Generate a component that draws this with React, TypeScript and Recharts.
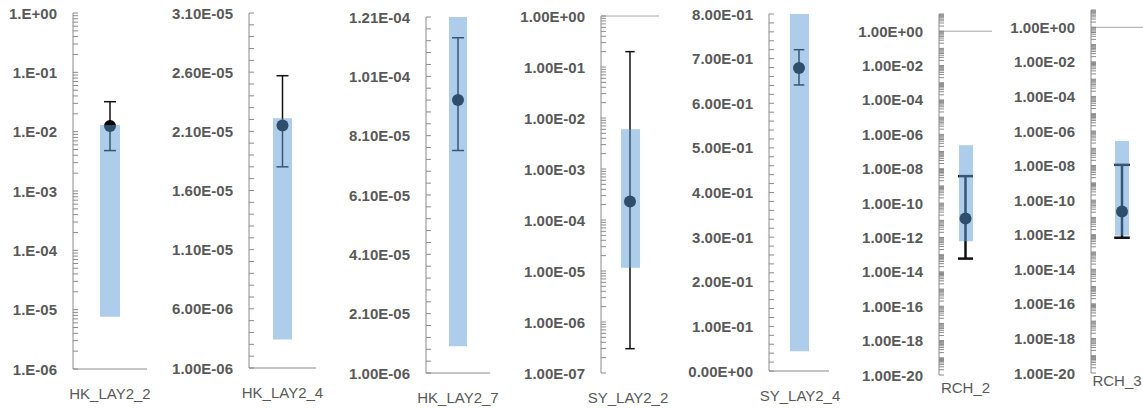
import React from 'react';
import { ComposedChart, Bar, Scatter, ErrorBar, XAxis, YAxis, ReferenceLine } from 'recharts';

// Parameter names, one small chart each
const categories = ['HK_LAY2_2', 'HK_LAY2_4', 'HK_LAY2_7', 'SY_LAY2_2', 'SY_LAY2_4', 'RCH_2', 'RCH_3'];

// Shaded range of each parameter
const rangeLow = [7.6e-6, 3.4e-6, 1.0e-5, 1.16e-5, 0.044, 6.0e-13, 9.0e-13];
const rangeHigh = [1.3e-2, 2.21e-5, 1.21e-4, 6.0e-3, 0.8, 2.3e-7, 2.6e-7];

// Estimated value with its lower / upper bound
const estimate = [1.25e-2, 2.15e-5, 9.3e-5, 2.3e-4, 0.679, 1.26e-11, 2.2e-11];
const lowerBound = [4.8e-3, 1.8e-5, 7.6e-5, 3.0e-7, 0.641, 5.9e-14, 6.7e-13];
const upperBound = [3.2e-2, 2.57e-5, 1.14e-4, 2.0e-1, 0.72, 3.7e-9, 1.1e-8];

// Value axes
const axisKind = ['log', 'linear', 'linear', 'log', 'linear', 'log', 'log'];
const axisMin = [1e-6, 1e-6, 1e-6, 1e-7, 0, 1e-20, 1e-20];
const axisMax = [1, 3.1e-5, 1.21e-4, 1, 0.8, 10, 10];
const minorStep = [0, 1e-6, 4e-6, 0, 0.02, 0, 0];

const majorTicks = [
  [1e-6, 1e-5, 1e-4, 1e-3, 1e-2, 1e-1, 1],
  [1e-6, 6e-6, 1.1e-5, 1.6e-5, 2.1e-5, 2.6e-5, 3.1e-5],
  [1e-6, 2.1e-5, 4.1e-5, 6.1e-5, 8.1e-5, 1.01e-4, 1.21e-4],
  [1e-7, 1e-6, 1e-5, 1e-4, 1e-3, 1e-2, 1e-1, 1],
  [0, 0.1, 0.2, 0.3, 0.4, 0.5, 0.6, 0.7, 0.8],
  [1e-20, 1e-18, 1e-16, 1e-14, 1e-12, 1e-10, 1e-8, 1e-6, 1e-4, 1e-2, 1],
  [1e-20, 1e-18, 1e-16, 1e-14, 1e-12, 1e-10, 1e-8, 1e-6, 1e-4, 1e-2, 1],
];

const rchLabels = ['1.00E-20', '1.00E-18', '1.00E-16', '1.00E-14', '1.00E-12', '1.00E-10', '1.00E-08', '1.00E-06', '1.00E-04', '1.00E-02', '1.00E+00'];
const tickLabels = [
  ['1.E-06', '1.E-05', '1.E-04', '1.E-03', '1.E-02', '1.E-01', '1.E+00'],
  ['1.00E-06', '6.00E-06', '1.10E-05', '1.60E-05', '2.10E-05', '2.60E-05', '3.10E-05'],
  ['1.00E-06', '2.10E-05', '4.10E-05', '6.10E-05', '8.10E-05', '1.01E-04', '1.21E-04'],
  ['1.00E-07', '1.00E-06', '1.00E-05', '1.00E-04', '1.00E-03', '1.00E-02', '1.00E-01', '1.00E+00'],
  ['0.00E+00', '1.00E-01', '2.00E-01', '3.00E-01', '4.00E-01', '5.00E-01', '6.00E-01', '7.00E-01', '8.00E-01'],
  rchLabels,
  rchLabels,
];

// Placement of each small chart on the page
const layout = [
  { axisX: 73, plotW: 74, top: 13, bottom: 369, labelY: 393, labelDx: 0, barSize: 20, cap: 6, errStroke: 1.5, bottomLine: true, topLine: false },
  { axisX: 249, plotW: 67, top: 13, bottom: 368, labelY: 392, labelDx: 0, barSize: 19, cap: 6, errStroke: 1.5, bottomLine: true, topLine: false },
  { axisX: 426, plotW: 64, top: 17, bottom: 373, labelY: 397, labelDx: 0, barSize: 18, cap: 6, errStroke: 1.5, bottomLine: true, topLine: false },
  { axisX: 601, plotW: 58, top: 16, bottom: 373, labelY: 397, labelDx: -2, barSize: 19, cap: 4.7, errStroke: 1.5, bottomLine: false, topLine: true },
  { axisX: 769, plotW: 60, top: 14, bottom: 371, labelY: 395, labelDx: 1, barSize: 19, cap: 5.3, errStroke: 1.5, bottomLine: true, topLine: false },
  { axisX: 939, plotW: 53, top: 14, bottom: 375, labelY: 387, labelDx: 0, barSize: 14, cap: 7.5, errStroke: 2.5, bottomLine: false, topLine: true },
  { axisX: 1091, plotW: 62, top: 10, bottom: 373, labelY: 380, labelDx: -5, barSize: 14, cap: 7.8, errStroke: 2.5, bottomLine: false, topLine: true },
];

const PAGE_W = 1143;
const PAGE_H = 408;
const Y_AXIS_W = 100;
const RIGHT_PAD = 40;
const LABEL_GAP = 16;
const TICK_LEN = 5;
const AXIS_COLOR = '#8a8a8a';
const TEXT_COLOR = '#595959';
const FONT = '"Liberation Sans", Arial, sans-serif';

// Major ticks plus unlabelled minor ticks (2..9 per decade on log axes)
function buildTicks(i: number): number[] {
  const majors = majorTicks[i];
  const min = axisMin[i];
  const max = axisMax[i];
  const out: number[] = [...majors];
  if (axisKind[i] === 'log') {
    const lo = Math.round(Math.log10(min));
    const hi = Math.round(Math.log10(max));
    for (let e = lo; e <= hi; e++) {
      const decade = Number(`1e${e}`);
      for (let k = 1; k <= 9; k++) {
        const v = Number((decade * k).toPrecision(12));
        if (v <= max && v >= min && !out.includes(v)) out.push(v);
      }
    }
  } else {
    const step = minorStep[i];
    const n = Math.round((max - min) / step);
    for (let s = 0; s <= n; s++) {
      const v = Number((min + s * step).toPrecision(10));
      const isMajor = majors.some((m) => Math.abs(m - v) < step * 1e-6);
      if (!isMajor) out.push(v);
    }
  }
  return out.sort((a, b) => a - b);
}

function labelFor(i: number, v: number): string | null {
  const majors = majorTicks[i];
  for (let j = 0; j < majors.length; j++) {
    const m = majors[j];
    if (Math.abs(m - v) <= 1e-9 * Math.max(Math.abs(m), Math.abs(v))) return tickLabels[i][j];
  }
  return null;
}

function Panel({ index }: { index: number }) {
  const cfg = layout[index];
  const data = [
    {
      name: categories[index],
      range: [rangeLow[index], rangeHigh[index]],
      value: estimate[index],
      err: [estimate[index] - lowerBound[index], upperBound[index] - estimate[index]],
    },
  ];
  const ticks = buildTicks(index);
  const chartW = Y_AXIS_W + cfg.plotW + RIGHT_PAD;

  const renderYTick = (p: any) => {
    const x = p.x as number;
    const y = p.y as number;
    const label = labelFor(index, p.payload.value);
    return (
      <g>
        <line x1={x + LABEL_GAP} x2={x + LABEL_GAP + TICK_LEN} y1={y} y2={y} stroke={AXIS_COLOR} strokeWidth={1} />
        {label !== null && (
          <text
            x={x}
            y={y}
            textAnchor="end"
            dominantBaseline="central"
            fontFamily={FONT}
            fontWeight="bold"
            fontSize={15}
            fill={TEXT_COLOR}
          >
            {label}
          </text>
        )}
      </g>
    );
  };

  const renderXTick = (p: any) => (
    <text
      x={p.x + cfg.labelDx}
      y={cfg.labelY}
      textAnchor="middle"
      dominantBaseline="central"
      fontFamily={FONT}
      fontSize={15}
      fill={TEXT_COLOR}
    >
      {p.payload.value}
    </text>
  );

  return (
    <div style={{ position: 'absolute', left: cfg.axisX - Y_AXIS_W, top: 0 }}>
      <ComposedChart
        width={chartW}
        height={PAGE_H}
        data={data}
        margin={{ top: cfg.top, right: RIGHT_PAD, bottom: 0, left: 0 }}
      >
        <XAxis
          dataKey="name"
          type="category"
          height={PAGE_H - cfg.bottom}
          axisLine={cfg.bottomLine ? { stroke: AXIS_COLOR } : false}
          tickLine={false}
          tick={renderXTick}
          interval={0}
        />
        <YAxis
          type="number"
          scale={axisKind[index] as any}
          domain={[axisMin[index], axisMax[index]]}
          allowDataOverflow
          ticks={ticks}
          interval={0}
          width={Y_AXIS_W}
          tickSize={0}
          tickMargin={LABEL_GAP}
          axisLine={{ stroke: AXIS_COLOR }}
          tickLine={false}
          tick={renderYTick}
        />
        {cfg.topLine && <ReferenceLine y={1} stroke="#a6a6a6" strokeWidth={1} />}
        <Scatter
          dataKey="value"
          isAnimationActive={false}
          shape={(p: any) => <circle cx={p.cx} cy={p.cy} r={6} fill="#000" />}
        >
          <ErrorBar dataKey="err" direction="y" width={cfg.cap} stroke="#111" strokeWidth={cfg.errStroke} />
        </Scatter>
        <Bar
          dataKey="range"
          barSize={cfg.barSize}
          fill="#5B9BD5"
          fillOpacity={0.5}
          isAnimationActive={false}
          {...({ zIndex: 900 } as any)}
        />
      </ComposedChart>
    </div>
  );
}

export default function App() {
  return (
    <div
      style={{
        position: 'absolute',
        left: 0,
        top: 0,
        width: PAGE_W,
        height: PAGE_H,
        overflow: 'hidden',
        background: '#fff',
      }}
    >
      {categories.map((_, i) => (
        <Panel key={categories[i]} index={i} />
      ))}
    </div>
  );
}
